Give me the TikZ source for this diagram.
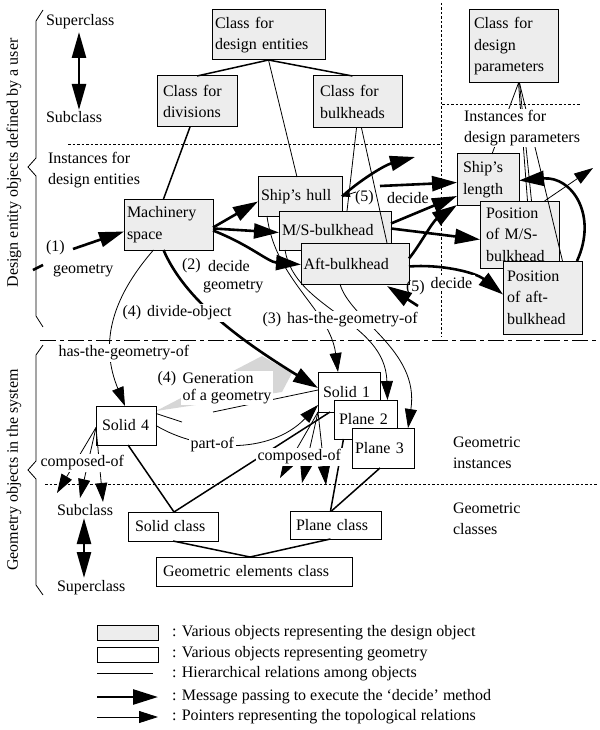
\documentclass[tikz,border=0pt]{standalone}
\usepackage{fontspec}
\setmainfont{Liberation Serif}
\usetikzlibrary{arrows.meta}
\begin{document}
\begin{tikzpicture}[x=1pt,y=-1pt,
  every node/.style={font=\fontsize{16}{21.5}\selectfont, inner sep=0pt, outer sep=0pt},
  gbox/.style={draw, line width=1pt, fill=black!7, anchor=north west, inner xsep=4pt, inner ysep=1pt, align=left},
  wbox/.style={draw, line width=1pt, fill=white, anchor=north west, inner xsep=5pt, inner ysep=1pt, align=left},
  lbl/.style={anchor=west, align=left},
  wlbl/.style={anchor=west, align=left, fill=white, inner sep=1.5pt},
  thinl/.style={line width=0.8pt},
  hier/.style={line width=1.5pt},
  msg/.style={line width=2.6pt, -{Triangle[length=25pt,width=15pt]}},
  ptr/.style={line width=0.8pt, -{Triangle[length=19pt,width=12pt]}},
  dblarr/.style={line width=2.6pt, {Triangle[length=26pt,width=14pt]}-{Triangle[length=26pt,width=14pt]}},
  dotl/.style={line width=0.9pt, dash pattern=on 2.5pt off 2pt},
  dashdot/.style={line width=1pt, dash pattern=on 16pt off 4pt on 4pt off 4pt},
  bracel/.style={line width=0.8pt, line join=miter},
]
\useasboundingbox (0,0) rectangle (599,730);

% grey "generation" wedge
\fill[black!16] (156,411) -- (262,356) -- (292,373) -- (282,392) -- cycle;

% separators
\draw[dotl] (68,144) -- (440,144);
\draw[dotl] (441,3) -- (441,337);
\draw[dotl] (442,104) -- (580,104);
\draw[dashdot] (40,340) -- (599,340);
\draw[dotl] (45,484) -- (597,484);

% braces
\draw[bracel] (43,10) -- (36,21) -- (36,158) -- (28,167) -- (36,176) -- (36,316) -- (43,327);
\draw[bracel] (43,345) -- (36,355) -- (36,461) -- (28,470) -- (36,479) -- (36,585) -- (43,595);
\node[rotate=90] (lblD) at (14,163) {Design entity objects defined by a user};
\node[rotate=90] (lblG) at (14,470) {Geometry objects in the system};

% design entity boxes
\node[gbox, inner xsep=3pt, text width=107pt, minimum height=50pt] (CDE) at (212,10) {Class for\\design entities};
\node[gbox, inner xsep=6pt, text width=68pt, minimum height=51pt] (CDiv) at (157,76) {Class for\\divisions};
\node[gbox, inner xsep=7pt, text width=75pt, minimum height=52pt] (CBulk) at (313,76) {Class for\\bulkheads};
\node[gbox, inner xsep=5pt, text width=79pt, minimum height=73pt] (CParam) at (469,10) {Class for\\design\\parameters};
\node[gbox, inner xsep=3pt, text width=83pt, minimum height=51pt] (MS) at (124,199) {Machinery\\space};
\node[gbox, inner xsep=3pt, text width=78pt, minimum height=39pt] (Hull) at (258,177) {Ship’s hull};
\node[gbox, inner xsep=3pt, text width=106pt, minimum height=39pt] (MSB) at (279,211) {M/S-bulkhead};
\node[gbox, inner xsep=2.5pt, text width=103pt, minimum height=41pt] (Aft) at (301,243) {Aft-bulkhead};
\node[gbox, inner xsep=6pt, text width=50pt, minimum height=51pt] (Len) at (457,154) {Ship’s\\length};
\node[gbox, inner xsep=6pt, text width=67pt, minimum height=67pt] (PMS) at (480,201) {Position\\of M/S-\\bulkhead};
\node[gbox, inner xsep=4pt, text width=71pt, minimum height=73pt] (PAft) at (503,261) {Position\\of aft-\\bulkhead};

% geometry boxes
\node[wbox, inner xsep=6pt, text width=48pt, minimum height=39pt] (S4) at (96,406) {Solid 4};
\node[wbox, inner xsep=5pt, text width=52pt, minimum height=40pt] (S1) at (318,372) {Solid 1};
\node[wbox, inner xsep=5pt, text width=53pt, minimum height=39pt] (P2) at (334,400) {Plane 2};
\node[wbox, inner xsep=3pt, text width=56pt, minimum height=40pt] (P3) at (352,428) {Plane 3};
\node[wbox, inner xsep=7pt, text width=76pt, minimum height=29pt] (SC) at (128,512) {Solid class};
\node[wbox, inner xsep=6pt, text width=79pt, minimum height=28pt] (PC) at (290,511) {Plane class};
\node[wbox, inner xsep=7pt, text width=182pt, minimum height=29pt] (GEC) at (156,557) {Geometric elements class};

% hierarchy (design entities)
\draw[hier] (CDE.south) -- (CDiv.north);
\draw[hier] (CDE.south) -- ([xshift=-5pt]CBulk.north);
\draw[thinl] (CDE.south) -- ([xshift=-3pt]Hull.north);
\draw[hier] ([xshift=-7pt]CDiv.south) -- ([xshift=-5pt]MS.north);
\draw[thinl] ([xshift=-1pt]CBulk.south) -- ([xshift=12pt]MSB.north);
\draw[thinl] ([xshift=4pt]CBulk.south) -- ([xshift=32pt]Aft.north);
\draw[thinl] ([xshift=5pt]CParam.south) -- ([xshift=4pt]Len.north);
\draw[thinl] ([xshift=5pt]CParam.south) -- ([xshift=8pt]PMS.north);
\draw[thinl] ([xshift=6pt]CParam.south) -- ([xshift=12pt]PMS.north);
\draw[thinl] ([xshift=6pt]CParam.south) -- ([xshift=20pt]PAft.north);

% messages
\coordinate (m1a) at (33,270);
\coordinate (m1b) at (43,265);
\coordinate (m1c) at (73,249);
\draw[line width=2.6pt] (m1a) -- (m1b);
\draw[msg] (m1c) -- ([yshift=-7pt]MS.west);
\draw[msg] ([yshift=-3pt]MS.east) -- ([yshift=-5pt]Hull.west);
\draw[msg] ([yshift=-4pt]MS.east) -- ([yshift=-2pt]MSB.west);
\draw[msg] ([yshift=-6pt]MS.east) .. controls (250,245) and (268,262) .. ([yshift=-1pt]Aft.west);
\coordinate (m5a) at (415,157);
\coordinate (m5t) at (356,192);
\coordinate (m5b) at (380,186);
\coordinate (m5c) at (418,306);
\draw[msg] (Hull.east) .. controls (360,180) and (385,165) .. (m5a);
\draw[thinl, -{Triangle[length=8pt,width=6pt]}] (m5t) -- (Hull.east);
\draw[msg] (m5b) -- ([yshift=-3pt]Len.west);
\draw[msg] ([yshift=7pt]MSB.east) -- ([yshift=9pt]Len.south west);
\draw[msg] ([yshift=2pt]MSB.east) -- ([yshift=-5pt]PMS.west);
\draw[msg] ([yshift=5pt]Aft.east) .. controls (420,245) and (432,222) .. (Len.south west);
\draw[msg] ([yshift=-3pt]Aft.east) .. controls (440,264) and (475,272) .. ([yshift=3pt]PAft.west);
\draw[msg] (m5c) -- ([xshift=-22pt,yshift=-2pt]Aft.south east);
\draw[msg] ([xshift=-5pt]PAft.north east) .. controls (598,215) and (572,176) .. ([yshift=-1pt]Len.east);
\coordinate (p1) at (593,168);
\draw[ptr] ([xshift=25pt]PMS.north) -- (p1);

% (4) divide-object
\draw[msg] ([xshift=-5pt]MS.south) .. controls (185,300) and (240,340) .. ([yshift=4pt]S1.west);
% has-the-geometry-of (Machinery space -> Solid 4)
\draw[ptr] ([xshift=-15pt]MS.south) .. controls (110,300) and (100,345) .. ([xshift=-1pt]S4.north);
% (3) has-the-geometry-of
\draw[ptr] ([xshift=9pt]Hull.south west) .. controls (275,280) and (330,310) .. ([xshift=-11pt]S1.north);
\draw[ptr] ([xshift=6pt]MSB.south west) .. controls (295,310) and (385,320) .. ([xshift=22pt]P2.north);
\draw[ptr] ([xshift=39pt]Aft.south west) .. controls (350,320) and (420,350) .. ([xshift=-6pt]P3.north east);

% geometry hierarchy
\draw[hier] ([xshift=2pt]S4.south) -- ([xshift=1pt]SC.north);
\draw[hier] ([xshift=1pt]SC.north) -- ([xshift=-19pt]S1.south);
\draw[hier] ([xshift=-5pt]PC.north) -- ([xshift=-22pt]P2.south);
\draw[hier] ([xshift=-4pt]PC.north) -- ([xshift=-3pt]P3.south);
\draw[hier] (SC.south) -- ([xshift=-4pt]GEC.north);
\draw[hier] ([xshift=-5pt]PC.south) -- ([xshift=-4pt]GEC.north);

% composed-of pointers
\coordinate (c4a) at (57,493);
\coordinate (c4b) at (80,498);
\coordinate (c4c) at (103,502);
\draw[ptr] ([yshift=-2pt]S4.west) -- (c4a);
\draw[ptr] ([yshift=-2pt]S4.west) -- (c4b);
\draw[ptr] ([yshift=-2pt]S4.west) -- (c4c);
\coordinate (c1a) at (280,478);
\coordinate (c1b) at (302,483);
\coordinate (c1c) at (326,485);
\draw[ptr] (S1.south west) -- (c1a);
\draw[ptr] (S1.south west) -- (c1b);
\draw[ptr] (S1.south west) -- (c1c);

% part-of and other pointers near Solid 4
\draw[ptr] (S4.east) .. controls (200,452) and (270,455) .. ([yshift=7pt]S1.south west);
\coordinate (g1) at (182,422);
\draw[thinl] ([yshift=12pt]S4.east) -- (g1);
\coordinate (g2) at (213,412);
\draw[thinl] (g2) -- ([yshift=2pt]S1.west);

% super/sub class arrows
\coordinate (sa1) at (79,32);
\coordinate (sa2) at (79,110);
\draw[dblarr] (sa1) -- (sa2);
\coordinate (sb1) at (84,518);
\coordinate (sb2) at (84,578);
\draw[dblarr] (sb1) -- (sb2);

% labels
\node[lbl] (tSup1) at (46,22) {Superclass};
\node[lbl] (tSub1) at (46,117) {Subclass};
\node[lbl] (tInst1) at (48,170) {Instances for\\design entities};
\node[wlbl, inner sep=1pt] (tInst2) at (463,128) {Instances for\\design parameters};
\node[lbl] (t1) at (46,248) {(1)};
\node[lbl] (t1g) at (53,271) {geometry};
\node[lbl] (t2) at (182,266) {(2)};
\node[lbl] (t2d) at (208,266) {decide};
\node[lbl] (t2g) at (203,287) {geometry};
\node[wlbl] (t4d) at (121,313) {(4)\hspace{6pt}divide-object};
\node[wlbl] (t3) at (261,320) {(3)\hspace{6pt}has-the-geometry-of};
\node[lbl] (t5a) at (355,198) {(5)};
\node[lbl] (t5ad) at (387,198) {decide};
\node[wlbl, inner sep=2.5pt] (t5bd) at (428,283) {decide};
\node[lbl] (t5b) at (406,288) {(5)};
\node[wlbl] (tHas) at (57,353) {has-the-geometry-of};
\node[wlbl, fill=none] (t4g) at (156,379) {(4)};
\node[wlbl, font=\fontsize{16}{17}\selectfont] (tGen) at (181,388) {Generation\\of a geometry};
\node[wlbl] (tPart) at (189,445) {part-of};
\node[wlbl] (tComp4) at (39,463) {composed-of};
\node[wlbl] (tComp1) at (256,457) {composed-of};
\node[lbl, font=\fontsize{16}{20.5}\selectfont] (tGI) at (453,453) {Geometric\\instances};
\node[lbl, font=\fontsize{16}{21}\selectfont] (tGC) at (453,519) {Geometric\\classes};
\node[lbl] (tSub2) at (57,510) {Subclass};
\node[lbl] (tSup2) at (57,588) {Superclass};

% legend
\node[gbox, minimum width=61pt, minimum height=15pt] (Lg) at (97,625) {};
\node[wbox, minimum width=61pt, minimum height=15pt] (Lw) at (97,647) {};
\coordinate (L3a) at (97,673);
\coordinate (L3b) at (153,673);
\draw[thinl] (L3a) -- (L3b);
\coordinate (L4a) at (97,697);
\coordinate (L4b) at (158,697);
\draw[msg] (L4a) -- (L4b);
\coordinate (L5a) at (97,717);
\coordinate (L5b) at (158,717);
\draw[ptr] (L5a) -- (L5b);
\node[lbl] (Lt1) at (172,633) {: Various objects representing the design object};
\node[lbl] (Lt2) at (172,654) {: Various objects representing geometry};
\node[lbl] (Lt3) at (172,674) {: Hierarchical relations among objects};
\node[lbl] (Lt4) at (172,697) {: Message passing to execute the ‘decide’ method};
\node[lbl] (Lt5) at (172,717) {: Pointers representing the topological relations};
\end{tikzpicture}
\end{document}
